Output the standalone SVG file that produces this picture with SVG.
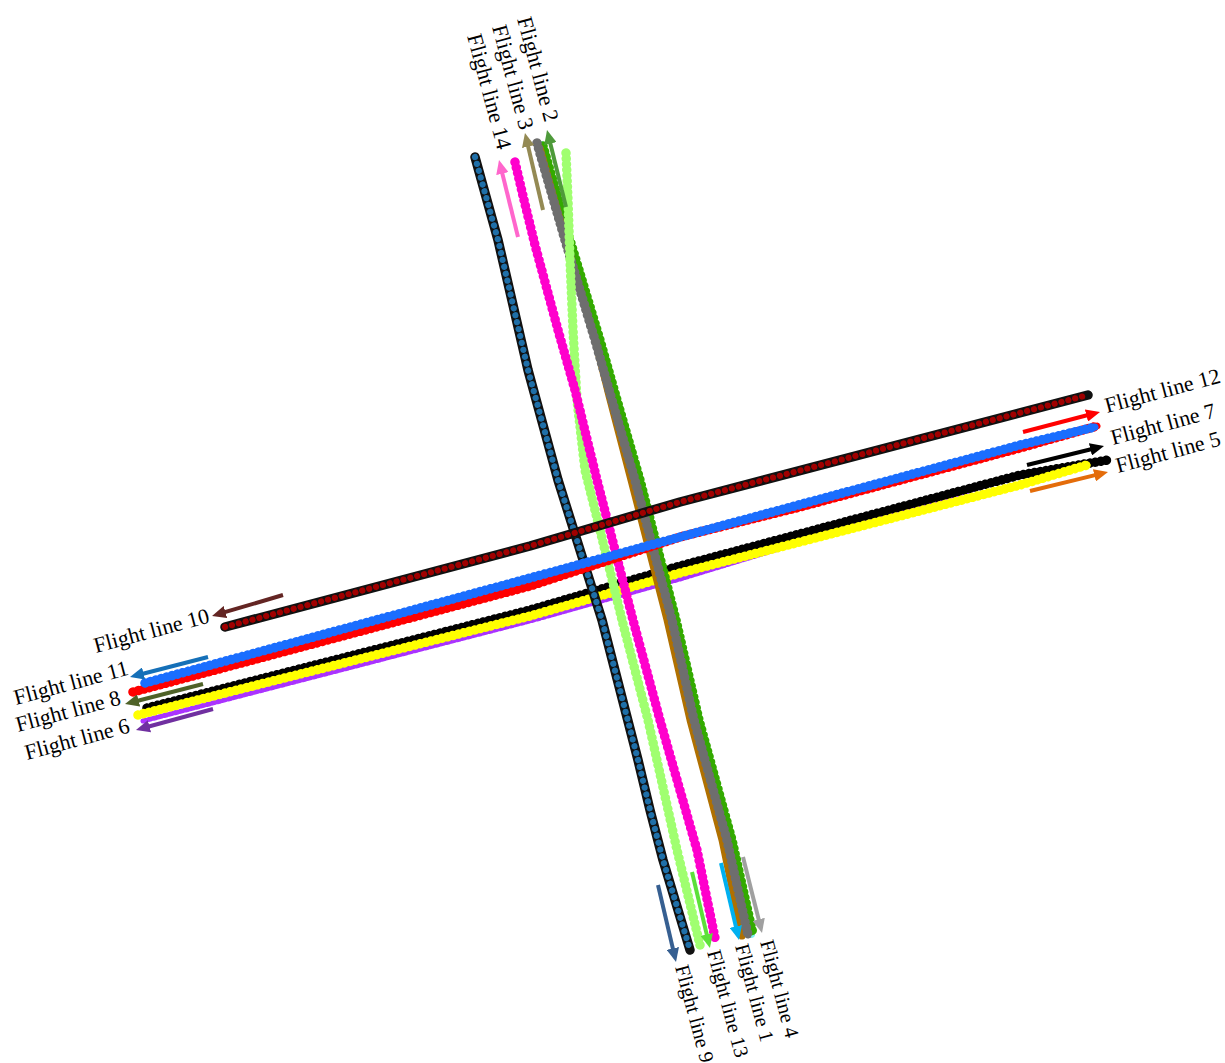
<svg xmlns="http://www.w3.org/2000/svg" width="1225" height="1063" viewBox="0 0 1225 1063">
  <defs>
    <style>
      .trk { fill: none; stroke-linejoin: round; stroke-linecap: round; }
      .w { stroke-width: 7; }
      .bump { stroke-width: 9.5; stroke-dasharray: 0.1 5.5; }
      .edge { stroke: #111; stroke-width: 9.5; }
      .bead { stroke-width: 6.2; stroke-dasharray: 0.1 7; }
      .arr { fill: none; stroke-width: 4; stroke-linecap: butt; }
      .lbl { font-family: "Liberation Serif", "Times New Roman", serif; font-size: 22px; fill: #000; }
      .lbl.sm { font-size: 20.5px; }
    </style>
    <marker id="hPink" viewBox="0 0 10 9" refX="0.5" refY="4.5" markerWidth="3.5" markerHeight="3.15" orient="auto"><path d="M0,0 L10,4.5 L0,9 z" fill="#ff66cc"/></marker>
    <marker id="hKhaki" viewBox="0 0 10 9" refX="0.5" refY="4.5" markerWidth="3.5" markerHeight="3.15" orient="auto"><path d="M0,0 L10,4.5 L0,9 z" fill="#948a54"/></marker>
    <marker id="hGreen" viewBox="0 0 10 9" refX="0.5" refY="4.5" markerWidth="3.5" markerHeight="3.15" orient="auto"><path d="M0,0 L10,4.5 L0,9 z" fill="#4e9a3a"/></marker>
    <marker id="hNavy" viewBox="0 0 10 9" refX="0.5" refY="4.5" markerWidth="3.5" markerHeight="3.15" orient="auto"><path d="M0,0 L10,4.5 L0,9 z" fill="#365f91"/></marker>
    <marker id="hLime" viewBox="0 0 10 9" refX="0.5" refY="4.5" markerWidth="3.5" markerHeight="3.15" orient="auto"><path d="M0,0 L10,4.5 L0,9 z" fill="#5ce03a"/></marker>
    <marker id="hCyan" viewBox="0 0 10 9" refX="0.5" refY="4.5" markerWidth="3.5" markerHeight="3.15" orient="auto"><path d="M0,0 L10,4.5 L0,9 z" fill="#00b0f0"/></marker>
    <marker id="hGrey" viewBox="0 0 10 9" refX="0.5" refY="4.5" markerWidth="3.5" markerHeight="3.15" orient="auto"><path d="M0,0 L10,4.5 L0,9 z" fill="#a0a0a0"/></marker>
    <marker id="hRed" viewBox="0 0 10 9" refX="0.5" refY="4.5" markerWidth="3.5" markerHeight="3.15" orient="auto"><path d="M0,0 L10,4.5 L0,9 z" fill="#ff0000"/></marker>
    <marker id="hBlack" viewBox="0 0 10 9" refX="0.5" refY="4.5" markerWidth="3.5" markerHeight="3.15" orient="auto"><path d="M0,0 L10,4.5 L0,9 z" fill="#000000"/></marker>
    <marker id="hOrange" viewBox="0 0 10 9" refX="0.5" refY="4.5" markerWidth="3.5" markerHeight="3.15" orient="auto"><path d="M0,0 L10,4.5 L0,9 z" fill="#e46c0a"/></marker>
    <marker id="hMaroon" viewBox="0 0 10 9" refX="0.5" refY="4.5" markerWidth="3.5" markerHeight="3.15" orient="auto"><path d="M0,0 L10,4.5 L0,9 z" fill="#632523"/></marker>
    <marker id="hBlue" viewBox="0 0 10 9" refX="0.5" refY="4.5" markerWidth="3.5" markerHeight="3.15" orient="auto"><path d="M0,0 L10,4.5 L0,9 z" fill="#1570b8"/></marker>
    <marker id="hOlive" viewBox="0 0 10 9" refX="0.5" refY="4.5" markerWidth="3.5" markerHeight="3.15" orient="auto"><path d="M0,0 L10,4.5 L0,9 z" fill="#4f6228"/></marker>
    <marker id="hPurple" viewBox="0 0 10 9" refX="0.5" refY="4.5" markerWidth="3.5" markerHeight="3.15" orient="auto"><path d="M0,0 L10,4.5 L0,9 z" fill="#7030a0"/></marker>
  </defs>

  <rect width="1225" height="1063" fill="#ffffff"/>

  <!-- east-west tracks, lower bundle -->
  <g id="track-6">
    <polyline class="trk" stroke="#aa33ff" stroke-width="5" stroke-dasharray="3 2.5" points="143,721 530,621 680,579 1037,470"/>
  </g>
  <g id="track-8">
    <polyline class="trk" stroke="#000000" stroke-width="6" points="147,708 530,610 680,566 1020,475 1108,460"/>
    <polyline class="trk bump" stroke="#000000" points="147,708 530,610 680,566 1020,475 1108,460"/>
  </g>
  <g id="track-5">
    <polyline class="trk w" stroke="#ffff00" points="138,715 530,616 680,573 1020,485 1087,465"/>
    <polyline class="trk bump" stroke="#ffff00" points="138,715 530,616 680,573 1020,485 1087,465"/>
  </g>

  <!-- north-south tracks -->
  <g id="track-2">
    <polyline class="trk" stroke="#80f0f0" stroke-width="8" points="541,145 555,195 568,240 583,290 598,340 615,400 638,480 675,620 697,720 730,840 751,934"/>
  </g>
  <g id="track-4">
    <polyline class="trk bump" stroke="#33aa00" points="543,146 557,195 570,240 585,290 600,340 617,400 640,480 676,620 699,720 732,840 753,934"/>
  </g>
  <g id="track-1">
    <polyline class="trk w" stroke="#b07000" points="540,148 553,195 566,240 580,290 594,336 609,396 631,480 667,620 690,720 722,840 742,936"/>
  </g>
  <g id="track-3">
    <polyline class="trk w" stroke="#6e6e6e" points="537,143 552,195 565,240 580,290 595,340 612,400 635,480 672,620 694,720 727,840 748,935"/>
    <polyline class="trk bump" stroke="#6e6e6e" points="537,143 552,195 565,240 580,290 595,340 612,400 635,480 672,620 694,720 727,840 748,935"/>
  </g>
  <g id="track-13">
    <polyline class="trk w" stroke="#a0ff70" points="566,153 568,200 570,260 573,330 577,400 585,470 600,530 622,620 648,720 677,850 700,945"/>
    <polyline class="trk bump" stroke="#a0ff70" points="566,153 568,200 570,260 573,330 577,400 585,470 600,530 622,620 648,720 677,850 700,945"/>
  </g>
  <g id="track-14">
    <polyline class="trk w" stroke="#ff00cc" points="515,162 524,200 535,245 558,330 575,390 597,480 633,620 660,720 697,850 715,938"/>
    <polyline class="trk bump" stroke="#ff00cc" points="515,162 524,200 535,245 558,330 575,390 597,480 633,620 660,720 697,850 715,938"/>
  </g>
  <g id="track-9">
    <polyline class="trk edge" points="475,157 498,240 528,370 558,480 602,620 638,760 650,810 663,860 690,950"/>
    <polyline class="trk bead" stroke="#1f6fa8" points="475,157 498,240 528,370 558,480 602,620 638,760 650,810 663,860 690,950"/>
  </g>

  <!-- east-west tracks, upper bundle -->
  <g id="track-7">
    <polyline class="trk w" stroke="#ff0000" points="133,692 530,586 680,537 800,507 1020,448 1097,426"/>
    <polyline class="trk bump" stroke="#ff0000" points="133,692 530,586 680,537 800,507 1020,448 1097,426"/>
  </g>
  <g id="track-11">
    <polyline class="trk w" stroke="#1a6eff" points="145,683 530,578 680,537 1020,445 1095,427"/>
    <polyline class="trk bump" stroke="#1a6eff" points="145,683 530,578 680,537 1020,445 1095,427"/>
  </g>
  <g id="track-10">
    <polyline class="trk edge" points="225,627 530,546 680,502 1088,395"/>
    <polyline class="trk bead" stroke="#a00000" points="225,627 530,546 680,502 1088,395"/>
  </g>

  <!-- direction arrows -->
  <g id="connectors">
    <line class="arr" stroke="#ff66cc" x1="518" y1="237" x2="502.2" y2="172.9" marker-end="url(#hPink)"/>
    <line class="arr" stroke="#948a54" x1="543" y1="210" x2="528.0" y2="145.9" marker-end="url(#hKhaki)"/>
    <line class="arr" stroke="#4e9a3a" x1="566" y1="207" x2="550.2" y2="142.9" marker-end="url(#hGreen)"/>
    <line class="arr" stroke="#365f91" x1="658" y1="885" x2="673.0" y2="949.1" marker-end="url(#hNavy)"/>
    <line class="arr" stroke="#5ce03a" x1="692" y1="872" x2="706.9" y2="935.1" marker-end="url(#hLime)"/>
    <line class="arr" stroke="#00b0f0" x1="721" y1="863" x2="736.0" y2="927.1" marker-end="url(#hCyan)"/>
    <line class="arr" stroke="#a0a0a0" x1="743" y1="857" x2="758.8" y2="920.1" marker-end="url(#hGrey)"/>
    <line class="arr" stroke="#ff0000" x1="1023" y1="432" x2="1087.1" y2="415.3" marker-end="url(#hRed)"/>
    <line class="arr" stroke="#000000" x1="1027" y1="465" x2="1091.1" y2="449.2" marker-end="url(#hBlack)"/>
    <line class="arr" stroke="#e46c0a" x1="1030" y1="491" x2="1095.1" y2="475.1" marker-end="url(#hOrange)"/>
    <line class="arr" stroke="#632523" x1="283" y1="595" x2="224.8" y2="612.2" marker-end="url(#hMaroon)"/>
    <line class="arr" stroke="#1570b8" x1="208" y1="657" x2="142.9" y2="673.7" marker-end="url(#hBlue)"/>
    <line class="arr" stroke="#4f6228" x1="203" y1="684" x2="137.9" y2="700.7" marker-end="url(#hOlive)"/>
    <line class="arr" stroke="#7030a0" x1="213" y1="709" x2="148.8" y2="726.5" marker-end="url(#hPurple)"/>
  </g>

  <!-- flight line labels -->
  <g id="label-2"><text class="lbl" transform="translate(517,19) rotate(75)">Flight line 2</text></g>
  <g id="label-3"><text class="lbl" transform="translate(492,27) rotate(75)">Flight line 3</text></g>
  <g id="label-14"><text class="lbl" transform="translate(467,36) rotate(75)">Flight line 14</text></g>
  <g id="label-9"><text class="lbl sm" transform="translate(675,967) rotate(75)">Flight line 9</text></g>
  <g id="label-13"><text class="lbl sm" transform="translate(707,952) rotate(75)">Flight line 13</text></g>
  <g id="label-1"><text class="lbl sm" transform="translate(735,946) rotate(75)">Flight line 1</text></g>
  <g id="label-4"><text class="lbl sm" transform="translate(760,942) rotate(75)">Flight line 4</text></g>
  <g id="label-12"><text class="lbl" transform="translate(1107,413) rotate(-15)">Flight line 12</text></g>
  <g id="label-7"><text class="lbl" transform="translate(1113,445) rotate(-15)">Flight line 7</text></g>
  <g id="label-5"><text class="lbl" transform="translate(1118,473) rotate(-15)">Flight line 5</text></g>
  <g id="label-10"><text class="lbl" transform="translate(96,653) rotate(-15)">Flight line 10</text></g>
  <g id="label-11"><text class="lbl" transform="translate(16,705) rotate(-15)">Flight line 11</text></g>
  <g id="label-8"><text class="lbl" transform="translate(18,732) rotate(-15)">Flight line 8</text></g>
  <g id="label-6"><text class="lbl" transform="translate(27,760) rotate(-15)">Flight line 6</text></g>
</svg>
